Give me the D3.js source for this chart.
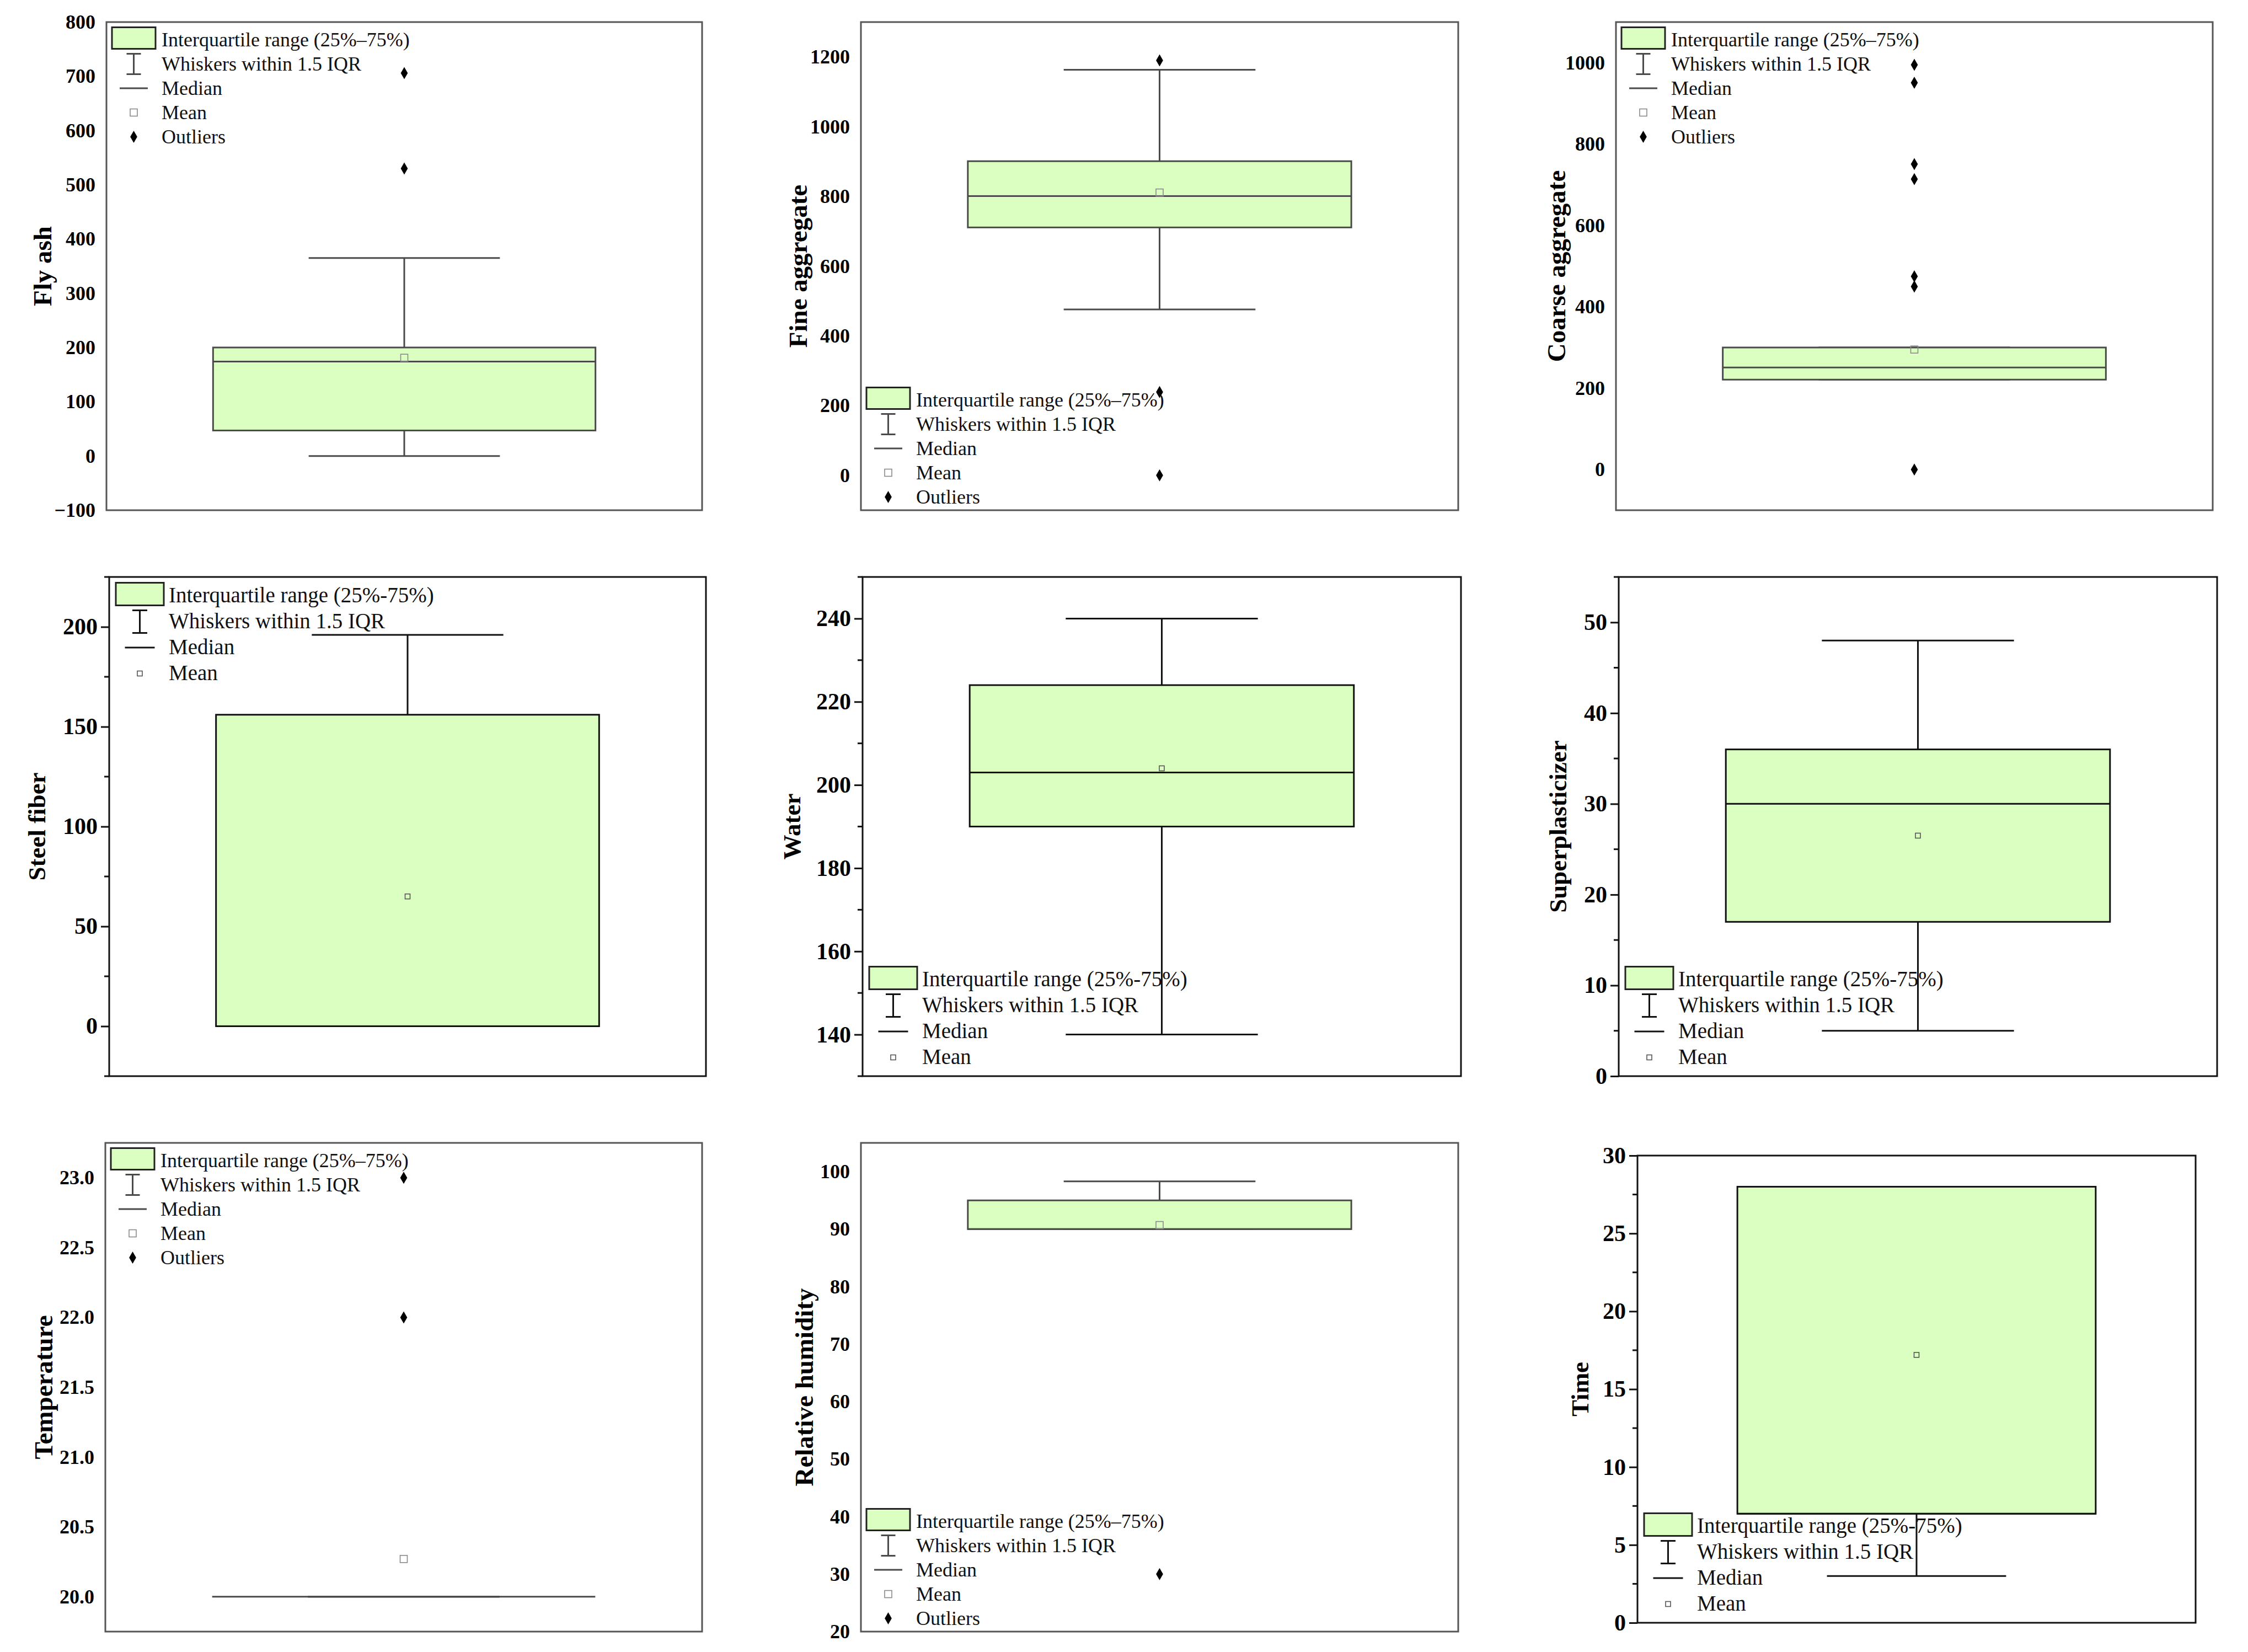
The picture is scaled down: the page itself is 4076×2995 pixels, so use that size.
<!DOCTYPE html>
<html>
<head>
<meta charset="utf-8">
<script src="https://cdn.jsdelivr.net/npm/d3@7"></script>
<style>
  html, body { margin: 0; padding: 0; background: #fff; }
  svg { display: block; }
</style>
</head>
<body>
<div id="chart"></div>
<script>
// one box per mix variable
const variables = ["Fly ash", "Fine aggregate", "Coarse aggregate",
  "Steel fiber", "Water", "Superplasticizer",
  "Temperature", "Relative humidity", "Time"];

const q1Values     = [47, 711, 221, 0, 190, 17, 20, 90, 7];
const medianValues = [174, 801, 251, 0, 203, 30, 20, 90, 7];
const q3Values     = [200, 901, 300, 156, 224, 36, 20, 95, 28];
const meanValues   = [181, 811, 295, 65, 204, 26.5, 20.27, 90.7, 17.2];
const whiskerLow   = [0, 476, 221, 0, 140, 5, 20, 90, 3];
const whiskerHigh  = [365, 1163, 300, 196, 240, 48, 20, 98.3, 28];
const outlierValues = [
  [706, 530],
  [1190, 239, 0],
  [995, 951, 751, 714, 475, 450, 0],
  [], [], [],
  [23, 22],
  [30],
  []
];

const yDomains = [[-100, 800], [-100, 1300], [-100, 1100],
  [-25, 225], [130, 250], [0, 55],
  [19.75, 23.25], [20, 105], [0, 30]];

const tickLabels = [
  [-100, 0, 100, 200, 300, 400, 500, 600, 700, 800],
  [0, 200, 400, 600, 800, 1000, 1200],
  [0, 200, 400, 600, 800, 1000],
  [0, 50, 100, 150, 200],
  [140, 160, 180, 200, 220, 240],
  [0, 10, 20, 30, 40, 50],
  [20.0, 20.5, 21.0, 21.5, 22.0, 22.5, 23.0],
  [20, 30, 40, 50, 60, 70, 80, 90, 100],
  [0, 5, 10, 15, 20, 25, 30]
];

// layout of the 3x3 grid (frame = plot box in page pixels)
const layout = [
  { frame: [193, 40, 1273, 925],   style: "A", legend: "top",    titleDx: 116, fmt: "d" },
  { frame: [1561, 40, 2644, 925],  style: "A", legend: "bottom", titleDx: 114, fmt: "d" },
  { frame: [2930, 40, 4012, 925],  style: "A", legend: "top",    titleDx: 108, fmt: "d" },
  { frame: [198, 1046, 1280, 1951],  style: "B", legend: "top",    titleDx: 132, fmt: "d" },
  { frame: [1564, 1046, 2649, 1951], style: "B", legend: "bottom", titleDx: 129, fmt: "d" },
  { frame: [2935, 1046, 4020, 1951], style: "B", legend: "bottom", titleDx: 111, fmt: "d" },
  { frame: [191, 2072, 1273, 2958],  style: "A", legend: "top",    titleDx: 112, fmt: ".1f" },
  { frame: [1561, 2072, 2644, 2958], style: "A", legend: "bottom", titleDx: 103, fmt: "d" },
  { frame: [2969, 2095, 3981, 2942], style: "B", legend: "bottom", titleDx: 105, fmt: "d" }
];

const styles = {
  A: {
    line: "#4a4a4a", frame: "#555", frameWidth: 3, lineWidth: 3,
    tickSize: 0, tickFont: 36, titleFont: 47, legendFont: 36, rowGap: 44,
    iqrLabel: "Interquartile range (25%\u201375%)", showOutliers: true,
    meanSize: 13, meanStroke: "#8a8a8a",
    sw: [10, 89], textDx: 100, topRow: 32, bottomRow: 24, swH: 39,
    capW: 26, iconH: 37, medW: 51
  },
  B: {
    line: "#111", frame: "#111", frameWidth: 3, lineWidth: 3,
    tickSize: 15, tickFont: 42, titleFont: 45, legendFont: 39, rowGap: 47,
    iqrLabel: "Interquartile range (25%-75%)", showOutliers: false,
    meanSize: 9, meanStroke: "#555",
    sw: [12, 99], textDx: 108, topRow: 34, bottomRow: 34, swH: 41,
    capW: 27, iconH: 41, medW: 54
  }
};

const boxFill = "#dbffc0";
const W = 4076, H = 2995;

const svg = d3.select("#chart").append("svg")
  .attr("xmlns", "http://www.w3.org/2000/svg")
  .attr("width", W)
  .attr("height", H)
  .style("font-family", "'Liberation Serif', 'Times New Roman', serif");

svg.append("rect").attr("width", W).attr("height", H).attr("fill", "#fff");

variables.forEach((name, i) => drawPanel(i));

function drawPanel(i) {
  const L = layout[i];
  const S = styles[L.style];
  const [x0, y0, x1, y1] = L.frame;
  const g = svg.append("g").attr("class", "panel");

  const y = d3.scaleLinear().domain(yDomains[i]).range([y1, y0]);
  const cx = (x0 + x1) / 2;
  const bw = (x1 - x0) * 0.642;
  const cw = bw / 2;

  // whiskers
  g.append("line")
    .attr("x1", cx).attr("x2", cx)
    .attr("y1", y(whiskerLow[i])).attr("y2", y(q1Values[i]))
    .attr("stroke", S.line).attr("stroke-width", S.lineWidth);
  g.append("line")
    .attr("x1", cx).attr("x2", cx)
    .attr("y1", y(q3Values[i])).attr("y2", y(whiskerHigh[i]))
    .attr("stroke", S.line).attr("stroke-width", S.lineWidth);
  [whiskerLow[i], whiskerHigh[i]].forEach(v => {
    g.append("line")
      .attr("x1", cx - cw / 2).attr("x2", cx + cw / 2)
      .attr("y1", y(v)).attr("y2", y(v))
      .attr("stroke", S.line).attr("stroke-width", S.lineWidth);
  });

  // box
  g.append("rect")
    .attr("x", cx - bw / 2)
    .attr("width", bw)
    .attr("y", y(q3Values[i]))
    .attr("height", Math.max(0, y(q1Values[i]) - y(q3Values[i])))
    .attr("fill", boxFill)
    .attr("stroke", S.line)
    .attr("stroke-width", S.lineWidth);

  g.append("line")
    .attr("x1", cx - bw / 2).attr("x2", cx + bw / 2)
    .attr("y1", y(medianValues[i])).attr("y2", y(medianValues[i]))
    .attr("stroke", S.line).attr("stroke-width", S.lineWidth);

  // mean
  g.append("rect")
    .attr("x", cx - S.meanSize / 2)
    .attr("y", y(meanValues[i]) - S.meanSize / 2)
    .attr("width", S.meanSize).attr("height", S.meanSize)
    .attr("fill", "none")
    .attr("stroke", S.meanStroke)
    .attr("stroke-width", 1.6);

  // outliers
  g.selectAll(".outlier")
    .data(outlierValues[i])
    .enter()
    .append("path")
    .attr("class", "outlier")
    .attr("transform", d => `translate(${cx},${y(d)})`)
    .attr("d", d3.symbol().type(d3.symbolDiamond).size(140))
    .attr("fill", "#000");

  // frame
  g.append("rect")
    .attr("x", x0).attr("y", y0)
    .attr("width", x1 - x0).attr("height", y1 - y0)
    .attr("fill", "none")
    .attr("stroke", S.frame)
    .attr("stroke-width", S.frameWidth);

  // y axis
  const axis = d3.axisLeft(y)
    .tickValues(tickLabels[i])
    .tickFormat(d3.format(L.fmt))
    .tickSize(S.tickSize)
    .tickPadding(L.style === "A" ? 20 : 6);

  const ax = g.append("g")
    .attr("transform", `translate(${x0},0)`)
    .call(axis);
  ax.select(".domain").remove();
  ax.selectAll(".tick line").attr("stroke", S.frame).attr("stroke-width", 3);
  ax.selectAll(".tick text")
    .attr("fill", "#000")
    .style("font-family", "'Liberation Serif', 'Times New Roman', serif")
    .style("font-size", S.tickFont + "px")
    .style("font-weight", "bold");

  if (L.style === "B") {
    const ticks = tickLabels[i];
    const step = ticks[1] - ticks[0];
    const [d0, d1] = yDomains[i];
    const minor = d3.range(ticks[0] - step / 2, d1 + 1e-9, step / 2)
      .filter(v => v >= d0 - 1e-9 && !ticks.some(t => Math.abs(t - v) < 1e-9));
    g.selectAll(".minor")
      .data(minor)
      .enter()
      .append("line")
      .attr("class", "minor")
      .attr("x1", x0 - 9).attr("x2", x0)
      .attr("y1", d => y(d)).attr("y2", d => y(d))
      .attr("stroke", S.frame).attr("stroke-width", 3);
  }

  // axis title
  g.append("text")
    .attr("transform", `translate(${x0 - L.titleDx},${(y0 + y1) / 2}) rotate(-90)`)
    .attr("text-anchor", "middle")
    .attr("dy", "0.35em")
    .style("font-size", S.titleFont + "px")
    .style("font-weight", "bold")
    .text(variables[i]);

  drawLegend(g, i, L, S);
}

function drawLegend(g, i, L, S) {
  const [x0, y0, x1, y1] = L.frame;
  const items = ["iqr", "whisker", "median", "mean"];
  if (S.showOutliers) items.push("outlier");
  const labels = {
    iqr: S.iqrLabel,
    whisker: "Whiskers within 1.5 IQR",
    median: "Median",
    mean: "Mean",
    outlier: "Outliers"
  };
  const firstRow = L.legend === "top"
    ? y0 + S.topRow
    : y1 - S.bottomRow - (items.length - 1) * S.rowGap;
  const sx0 = x0 + S.sw[0], sx1 = x0 + S.sw[1];
  const scx = (sx0 + sx1) / 2;

  items.forEach((key, k) => {
    const ry = firstRow + k * S.rowGap;
    if (key === "iqr") {
      g.append("rect")
        .attr("x", sx0).attr("y", ry - S.swH / 2 - 3)
        .attr("width", sx1 - sx0).attr("height", S.swH)
        .attr("fill", boxFill)
        .attr("stroke", "#222").attr("stroke-width", 3);
    } else if (key === "whisker") {
      const top = ry - S.iconH / 2, bot = ry + S.iconH / 2;
      g.append("path")
        .attr("d", `M${scx},${top}V${bot}M${scx - S.capW / 2},${top}H${scx + S.capW / 2}M${scx - S.capW / 2},${bot}H${scx + S.capW / 2}`)
        .attr("stroke", S.line).attr("stroke-width", 3).attr("fill", "none");
    } else if (key === "median") {
      g.append("line")
        .attr("x1", scx - S.medW / 2).attr("x2", scx + S.medW / 2)
        .attr("y1", ry).attr("y2", ry)
        .attr("stroke", S.line).attr("stroke-width", 3);
    } else if (key === "mean") {
      g.append("rect")
        .attr("x", scx - S.meanSize / 2).attr("y", ry - S.meanSize / 2)
        .attr("width", S.meanSize).attr("height", S.meanSize)
        .attr("fill", "none").attr("stroke", S.meanStroke).attr("stroke-width", 1.6);
    } else {
      g.append("path")
        .attr("transform", `translate(${scx},${ry})`)
        .attr("d", d3.symbol().type(d3.symbolDiamond).size(140))
        .attr("fill", "#000");
    }
    g.append("text")
      .attr("x", x0 + S.textDx)
      .attr("y", ry)
      .attr("dy", "0.32em")
      .attr("fill", "#111")
      .style("font-size", S.legendFont + "px")
      .text(labels[key]);
  });
}
</script>
</body>
</html>
